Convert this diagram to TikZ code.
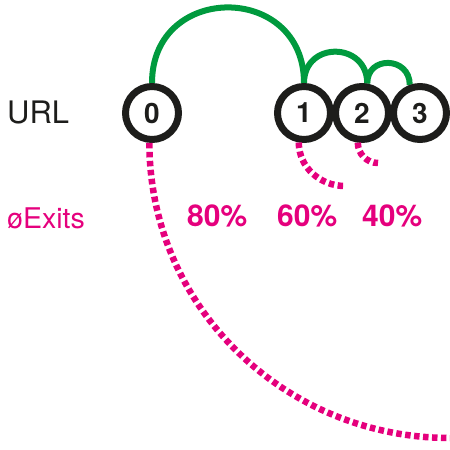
\documentclass[tikz,border=0pt]{standalone}
\usepackage{fontspec}
\setmainfont{TeX Gyre Heros}
\usetikzlibrary{positioning,backgrounds}
\definecolor{hopgreen}{HTML}{009A3E}
\definecolor{exitpink}{HTML}{E5007D}
\definecolor{ringblack}{HTML}{1D1D1B}

\begin{document}
\begin{tikzpicture}[x=1pt, y=1pt,
    url/.style={circle, draw=ringblack, line width=7pt, fill=white, minimum size=53pt, inner sep=0pt,
        text=ringblack, font=\fontsize{28}{30}\selectfont\bfseries},
    hop/.style={draw=hopgreen, line width=6pt, out=90, in=90, looseness=1.7},
    exit/.style={draw=exitpink, line width=6.5pt, dash pattern=on 5.5pt off 3.5pt},
    rate/.style={anchor=base west, inner sep=0pt, text=exitpink, font=\fontsize{30}{32}\selectfont\bfseries}]
    \useasboundingbox (0,0) rectangle (450,-450);

    \node [anchor=base west, inner sep=0pt, text=ringblack, font=\fontsize{31}{33}\selectfont] (lurl) at (7,-123) {URL};
    \node [anchor=base west, inner sep=0pt, text=exitpink, font=\fontsize{28.5}{30}\selectfont] (lexits) at (7,-228) {øExits};

    \node [url] (u0) at (152,-113) {0};
    \node [url, right=92pt of u0] (u1) {1};
    \node [url, right=-2pt of u1] (u2) {2};
    \node [url, right=-2pt of u2] (u3) {3};

    % page hops
    \begin{scope}[on background layer]
    \draw [hop] (u0.north) to (u1.north);
    \draw [hop] (u1.north) to (u2.80);
    \draw [hop] (u2.80) to (u3.110);
    \end{scope}

    % exits
    \coordinate (x0) at (450,-438);
    \coordinate (x1) at (345,-186);
    \coordinate (x2) at (378,-163);
    \draw [exit] (u0.265) to [out=-90, in=180] (x0);
    \draw [exit] (u1.260) to [out=-90, in=180] (x1);
    \draw [exit] (u2.262) to [out=-90, in=180] (x2);

    \node [rate] (r0) at (187,-226) {80\%};
    \node [rate] (r1) at (277,-226) {60\%};
    \node [rate] (r2) at (362,-226) {40\%};
\end{tikzpicture}
\end{document}
